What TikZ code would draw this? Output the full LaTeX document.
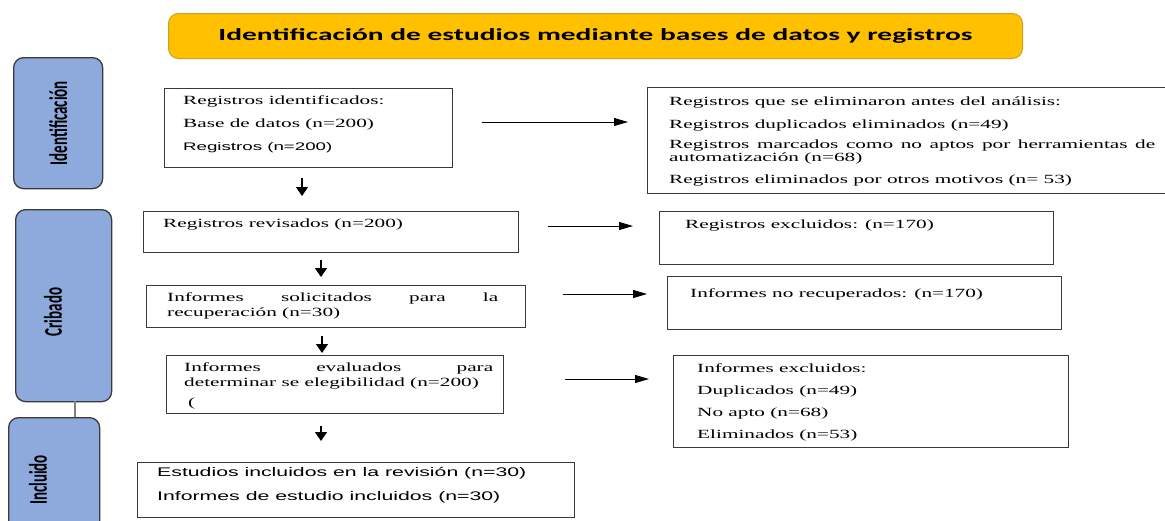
\documentclass[tikz,border=0pt]{standalone}
\usepackage{fontspec}
\usetikzlibrary{arrows.meta}
\newfontfamily\serifx[FakeStretch=1.7]{Liberation Serif}
\newfontfamily\sansx[FakeStretch=1.7]{Liberation Sans}
\newfontfamily\titlef[FakeStretch=1.73]{Carlito}
\newfontfamily\sidef{Carlito}
\newcommand\tstr{\rule{0pt}{11pt}}
\definecolor{gold}{HTML}{FFC000}
\definecolor{goldline}{HTML}{C9A227}
\definecolor{sideblue}{HTML}{8EA9DB}
\definecolor{boxline}{HTML}{3A3A3A}
\tikzset{
  box/.style={draw=boxline, line width=1.4pt, rectangle, inner sep=0pt, anchor=north west},
  sidebox/.style={draw=boxline, line width=1.3pt, fill=sideblue, rounded corners=10pt, inner sep=0pt, anchor=north west},
  sidelabel/.style={rotate=90, inner sep=0pt, font=\fontsize{15}{15}\sidef\bfseries},
  txt/.style={inner sep=0pt, anchor=north west, align=left, font=\fontsize{12.5}{23}\serifx},
  stxt/.style={inner sep=0pt, anchor=north west, align=left, font=\fontsize{12.5}{24}\sansx},
  sidearrow/.style={line width=0.9pt, -{Triangle[length=14pt,width=8pt]}},
  downarrow/.style={line width=1.4pt, -{Triangle[length=9pt,width=12pt]}},
}
\begin{document}
\begin{tikzpicture}[x=1pt,y=-1pt]
\useasboundingbox (0,0) rectangle (1165,520);
% title
\node[draw=goldline, line width=1pt, fill=gold, rounded corners=10pt, minimum width=854pt, minimum height=45pt, anchor=north west] (title) at (168,13) {};
\node[inner sep=0pt, font=\fontsize{17}{17}\titlef\bfseries] (titletext) at (title.center) {Identificación de estudios mediante bases de datos y registros};
% side boxes
\node[sidebox, minimum width=89pt, minimum height=131pt] (ident) at (13,57) {};
\node[sidelabel] (identl) at (ident.center) {\scalebox{1}[1.7]{Identificación}};
\node[sidebox, minimum width=96pt, minimum height=192pt] (crib) at (15,209) {};
\node[sidelabel] (cribl) at (53,312) {\scalebox{1}[1.7]{Cribado}};
\node[sidebox, minimum width=91pt, minimum height=120pt] (incl) at (8,417) {};
\node[sidelabel] (incll) at (38,480) {\scalebox{1}[1.7]{Incluido}};
\coordinate (link1) at (75,401);
\coordinate (link2) at (75,417);
\draw[gray, line width=1.2pt] (link1) -- (link2);
% boxes
\node[box, minimum width=288pt, minimum height=79pt] (b1) at (164,88) {};
\node[txt] (t1) at (183,93) {\tstr Registros identificados:\\Base de datos (n=200)\\{\fontsize{11}{23}\sansx Registros (n=200)}};
\node[box, minimum width=530pt, minimum height=106pt] (b2) at (647,87) {};
\node[txt, font=\fontsize{12.5}{13}\serifx] (t2) at (669,94) {\tstr Registros que se eliminaron antes del análisis:\\[10pt]Registros duplicados eliminados (n=49)\\[7pt]\hbox to 486pt{Registros\hfill marcados\hfill como\hfill no\hfill aptos\hfill por\hfill herramientas\hfill de}\\automatización (n=68)\\[9pt]Registros eliminados por otros motivos (n= 53)};
\node[box, minimum width=375pt, minimum height=41pt] (b3) at (143,211) {};
\node[txt] (t3) at (163,216) {\tstr Registros revisados (n=200)};
\node[box, minimum width=394pt, minimum height=53pt] (b4) at (659,211) {};
\node[txt] (t4) at (685,217) {\tstr Registros excluidos: (n=170)};
\node[box, minimum width=379pt, minimum height=42pt] (b5) at (146,285) {};
\node[txt, font=\fontsize{12.5}{15}\serifx] (t5) at (167,290) {\tstr\hbox to 331pt{Informes\hfill solicitados\hfill para\hfill la}\\recuperación (n=30)};
\node[box, minimum width=394pt, minimum height=53pt] (b6) at (667,276) {};
\node[txt] (t6) at (690,286) {\tstr Informes no recuperados: (n=170)};
\node[box, minimum width=337pt, minimum height=58pt] (b7) at (166,355) {};
\node[txt, font=\fontsize{12.5}{15}\serifx] (t7) at (184,360) {\tstr\hbox to 309pt{Informes\hfill evaluados\hfill para}\\determinar se elegibilidad (n=200)\\[5pt]\hspace*{4pt}(};
\node[box, minimum width=395pt, minimum height=92pt] (b8) at (673,355) {};
\node[txt, font=\fontsize{12.5}{22}\serifx] (t8) at (697,361) {\tstr Informes excluidos:\\Duplicados (n=49)\\No apto (n=68)\\Eliminados (n=53)};
\node[box, minimum width=437pt, minimum height=55pt] (b9) at (137,462) {};
\node[stxt] (t9) at (157,465) {\tstr Estudios incluidos en la revisión (n=30)\\Informes de estudio incluidos (n=30)};
% arrows
\coordinate (a1s) at (482,122); \coordinate (a1e) at (628,122);
\draw[sidearrow] (a1s) -- (a1e);
\coordinate (a2s) at (548,226); \coordinate (a2e) at (633,226);
\draw[sidearrow] (a2s) -- (a2e);
\coordinate (a3s) at (563,294); \coordinate (a3e) at (647,294);
\draw[sidearrow] (a3s) -- (a3e);
\coordinate (a4s) at (565,379); \coordinate (a4e) at (649,379);
\draw[sidearrow] (a4s) -- (a4e);
\coordinate (d1s) at (302,178); \coordinate (d1e) at (302,196);
\draw[downarrow] (d1s) -- (d1e);
\coordinate (d2s) at (321,260); \coordinate (d2e) at (321,277);
\draw[downarrow] (d2s) -- (d2e);
\coordinate (d3s) at (322,336); \coordinate (d3e) at (322,353);
\draw[downarrow] (d3s) -- (d3e);
\coordinate (d4s) at (321,426); \coordinate (d4e) at (321,441);
\draw[downarrow] (d4s) -- (d4e);
\end{tikzpicture}
\end{document}
